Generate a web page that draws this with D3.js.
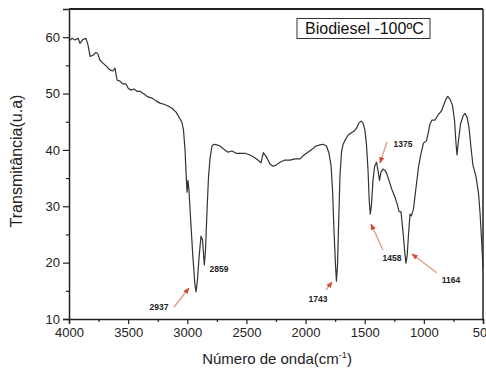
<!DOCTYPE html>
<html>
<head>
<meta charset="utf-8">
<script src="https://cdn.jsdelivr.net/npm/d3@7"></script>
<style>
  html, body { margin: 0; padding: 0; background: #fff; }
  svg { display: block; font-family: "Liberation Sans", Arial, sans-serif; }
</style>
</head>
<body>
<svg id="chart" width="486" height="369"></svg>
<script>
// ---- data ----
const wavenumbers = [4000,3975,3949,3924,3907,3882,3856,3839,3822,3797,3772,3755,3738,3713,3687,3670,3645,3628,3611,3594,3569,3544,3518,3501,3476,3451,3425,3400,3366,3332,3298,3264,3231,3197,3163,3129,3095,3070,3045,3032,3019,3011,3002,2994,2986,2969,2952,2935,2926,2914,2901,2884,2871,2856,2846,2833,2821,2808,2791,2774,2749,2723,2690,2656,2622,2588,2554,2512,2470,2436,2402,2377,2357,2335,2318,2301,2275,2250,2216,2174,2132,2089,2047,2013,1980,1946,1912,1878,1853,1823,1802,1785,1772,1760,1747,1739,1730,1722,1709,1696,1684,1667,1641,1616,1591,1565,1548,1531,1515,1498,1485,1472,1462,1453,1443,1430,1417,1400,1388,1375,1362,1345,1329,1312,1295,1269,1244,1223,1210,1193,1176,1159,1151,1141,1130,1117,1105,1088,1067,1045,1024,1003,978,965,948,931,906,880,851,830,813,798,779,758,741,730,720,707,690,669,652,635,618,601,585,559,538,525,512,500];
const transmittance = [59.3,59.8,59.5,59.8,58.9,59.6,59.8,58.6,56.6,56.8,57.3,57.0,55.9,55.4,54.9,54.5,54.1,54.0,54.5,52.4,52.2,51.7,51.7,51.0,50.6,50.8,50.4,50.4,49.9,49.4,49.2,48.7,48.3,48.1,47.8,47.4,46.7,45.8,44.9,43.5,40.0,36.1,32.5,34.6,32.9,26.7,20.8,16.0,14.8,16.9,20.8,24.7,24.0,19.6,22.2,29.3,35.0,38.5,40.7,41.0,40.9,40.7,40.1,39.6,39.8,39.4,39.4,39.4,39.1,38.7,38.2,37.7,39.5,38.9,38.2,37.5,37.1,37.3,37.8,38.2,38.2,38.4,38.4,39.1,39.6,40.1,40.7,40.9,41.0,40.7,39.4,37.3,32.9,25.8,19.6,16.7,19.6,25.8,35.5,39.6,40.9,41.7,42.6,43.0,43.3,44.0,44.8,45.1,44.8,43.5,40.9,36.4,31.1,28.6,30.2,34.6,37.0,37.8,36.4,34.6,36.1,36.6,36.4,35.7,34.6,32.9,31.6,30.2,29.1,29.0,25.4,21.3,19.9,21.3,24.9,28.6,28.3,29.5,33.2,37.0,39.4,41.2,41.6,42.8,44.6,45.3,45.3,46.2,46.9,48.1,49.0,49.5,49.0,47.9,45.3,41.7,39.1,41.7,44.6,46.0,46.5,45.8,43.9,40.3,37.3,35.2,32.3,28.8,24.0,19.0];

const xTicks = [4000,3500,3000,2500,2000,1500,1000,500];
const xMinorTicks = [3750,3250,2750,2250,1750,1250,750];
const yTicks = [10,20,30,40,50,60];
const yMinorTicks = [15,25,35,45,55];

const peakLabels = ["2937","2859","1743","1458","1375","1164"];
const legendText = "Biodiesel -100ºC";
const xTitle = "Número de onda(cm";
const yTitle = "Transmitância(u.a)";

// ---- layout ----
const svg = d3.select("#chart");
const pL = 69, pR = 483, pT = 9, pB = 319;
const x = d3.scaleLinear().domain([4000, 500]).range([pL, pR]);
const y = d3.scaleLinear().domain([10, 65]).range([pB, pT]);

const axisColor = "#222";

// frame top & right
svg.append("line").attr("x1", pL).attr("x2", pR).attr("y1", pT).attr("y2", pT)
  .attr("stroke", axisColor).attr("stroke-width", 1.8);
svg.append("line").attr("x1", pR).attr("x2", pR).attr("y1", pT).attr("y2", pB)
  .attr("stroke", axisColor).attr("stroke-width", 1.5);

// x axis
svg.append("g").attr("transform", `translate(0,${pB})`)
  .call(d3.axisBottom(x).tickValues(xTicks).tickFormat(d3.format("d")).tickSizeOuter(0).tickSize(5).tickPadding(4));
svg.append("g").attr("transform", `translate(0,${pB})`)
  .call(d3.axisBottom(x).tickValues(xMinorTicks).tickFormat("").tickSizeOuter(0).tickSize(3))
  .select(".domain").remove();

// y axis
svg.append("g").attr("transform", `translate(${pL},0)`)
  .call(d3.axisLeft(y).tickValues(yTicks).tickFormat(d3.format("d")).tickSizeOuter(0).tickSize(6).tickPadding(3));
svg.append("g").attr("transform", `translate(${pL},0)`)
  .call(d3.axisLeft(y).tickValues(yMinorTicks).tickFormat("").tickSizeOuter(0).tickSize(3))
  .select(".domain").remove();

svg.selectAll(".domain").attr("stroke", axisColor).attr("stroke-width", 1.5);
svg.selectAll(".tick line").attr("stroke", axisColor).attr("stroke-width", 1.2);
svg.selectAll(".tick text").attr("fill", "#222").style("font-size", "13px")
  .style("font-family", "'Liberation Sans', Arial, sans-serif");

// spectrum line
const data = wavenumbers.map((w, i) => ({ w, t: transmittance[i] }));
svg.append("path").datum(data)
  .attr("fill", "none").attr("stroke", "#333").attr("stroke-width", 1.2)
  .attr("stroke-linejoin", "round")
  .attr("d", d3.line().x(d => x(d.w)).y(d => y(d.t)));

// legend box
const lg = svg.append("g");
lg.append("rect").attr("x", 297).attr("y", 18.5).attr("width", 133).attr("height", 20)
  .attr("fill", "#fff").attr("stroke", "#333").attr("stroke-width", 1);
lg.append("text").attr("x", 305).attr("y", 34).attr("fill", "#111")
  .style("font-size", "16px").text(legendText);

// axis titles
const xt = svg.append("text").attr("x", 277).attr("y", 364).attr("text-anchor", "middle")
  .attr("fill", "#222").style("font-size", "15px");
xt.append("tspan").text(xTitle);
xt.append("tspan").attr("dy", -6).style("font-size", "9px").text("-1");
xt.append("tspan").attr("dy", 6).text(")");

svg.append("text").attr("transform", "translate(22,161) rotate(-90)")
  .attr("text-anchor", "middle").attr("fill", "#222").style("font-size", "16px")
  .text(yTitle);

// annotations (arrows + labels)
const defs = svg.append("defs");
defs.append("marker").attr("id", "ah").attr("viewBox", "0 0 10 10")
  .attr("refX", 9).attr("refY", 5).attr("markerWidth", 5).attr("markerHeight", 5)
  .attr("orient", "auto")
  .append("path").attr("d", "M0,1 L10,5 L0,9 z").attr("fill", "#d24a32");

// annotation geometry in pixel offsets (layout only)
const annotLayout = {
  "2937": { lx: 159, ly: 310, arrow: [174, 307, 189, 288] },
  "2859": { lx: 219, ly: 272, arrow: null },
  "1743": { lx: 318, ly: 302, arrow: [326, 290, 332, 282] },
  "1458": { lx: 392, ly: 261, arrow: [383, 250, 371, 224] },
  "1375": { lx: 403, ly: 147, arrow: [387, 142, 380, 163] },
  "1164": { lx: 451, ly: 283, arrow: [437, 273, 412, 254] }
};
peakLabels.forEach(lbl => {
  const a = annotLayout[lbl];
  if (a.arrow) {
    svg.append("line").attr("x1", a.arrow[0]).attr("y1", a.arrow[1])
      .attr("x2", a.arrow[2]).attr("y2", a.arrow[3])
      .attr("stroke", "#e39a84").attr("stroke-width", 1.3)
      .attr("marker-end", "url(#ah)");
  }
  svg.append("text").attr("x", a.lx).attr("y", a.ly).attr("text-anchor", "middle")
    .attr("fill", "#222").style("font-size", "8.5px").style("font-weight", "bold")
    .text(lbl);
});
</script>
</body>
</html>
